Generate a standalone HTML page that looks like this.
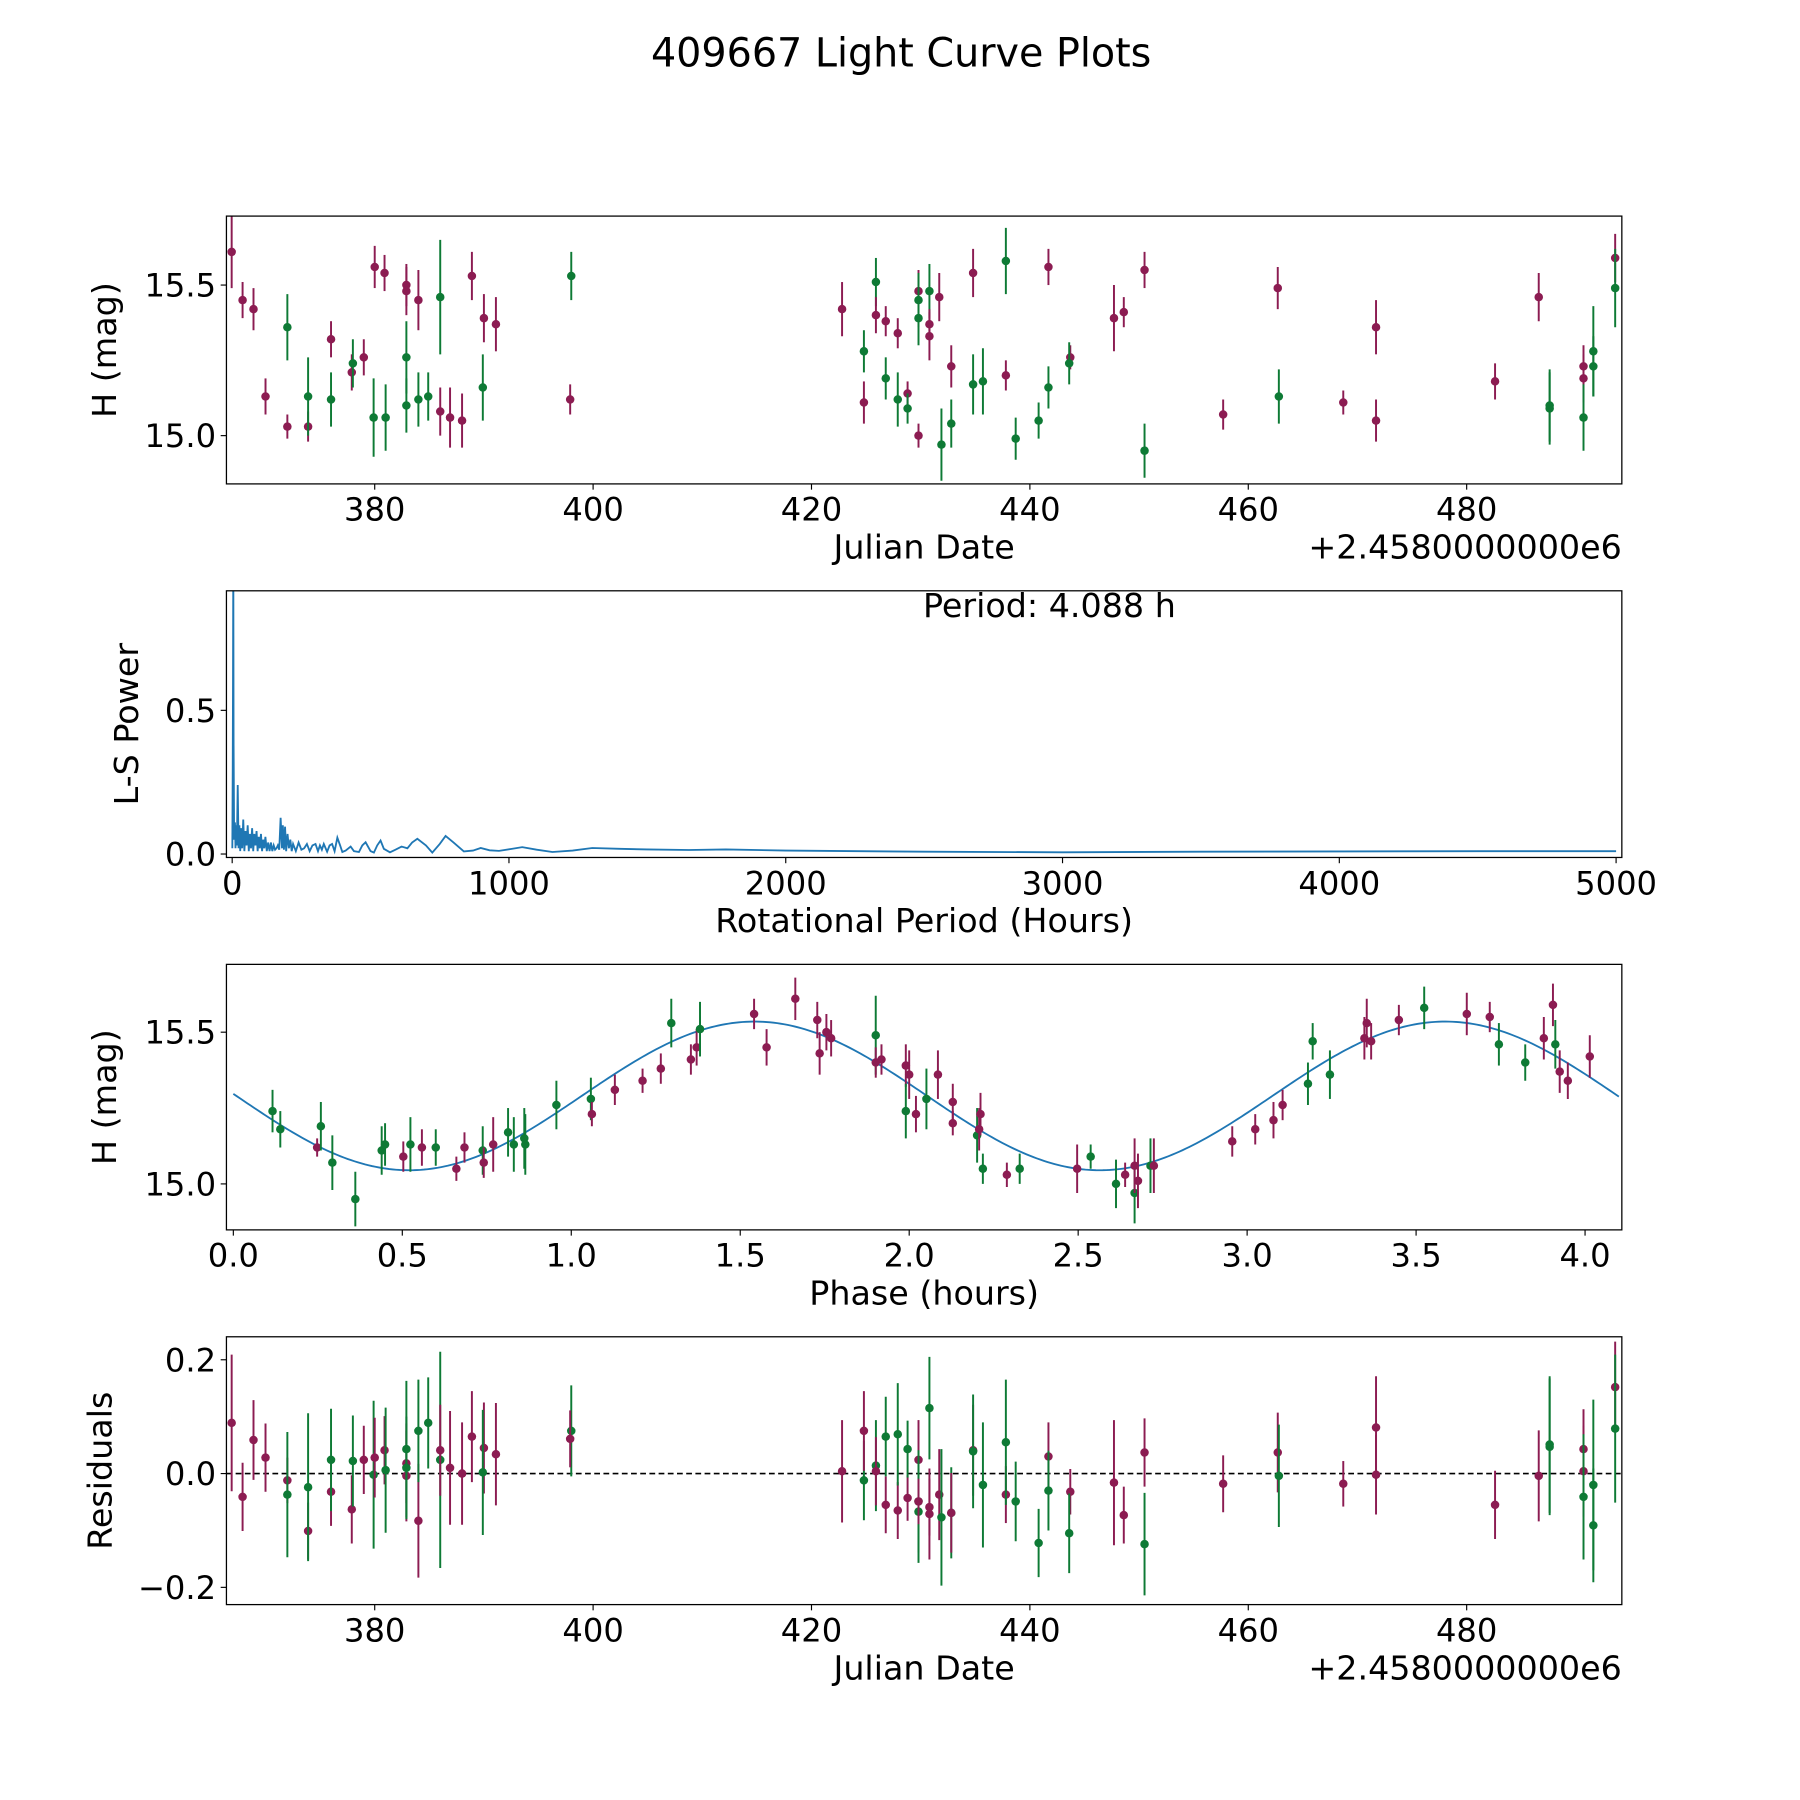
<!DOCTYPE html>
<html><head><meta charset="utf-8"><title>409667 Light Curve Plots</title>
<style>html,body{margin:0;padding:0;background:#fff}svg{display:block}text{font-family:"DejaVu Sans","Liberation Sans",sans-serif;fill:#000}</style>
</head><body>
<svg id="fig" xmlns="http://www.w3.org/2000/svg" width="1800" height="1800" viewBox="0 0 1566 1566">
<rect width="1566" height="1566" fill="#fff"/>
<text x="784" y="58" font-size="34.5" text-anchor="middle">409667 Light Curve Plots</text>
</svg>
<script>
// ---- Panel 1: light curve vs Julian Date ----
const lcJd  = [366.9,367.9,368.9,370.0,372.0,372.0,373.9,373.9,376.0,376.0,377.9,378.0,379.0,379.9,380.0,380.9,381.0,382.9,382.9,382.9,382.9,384.0,384.0,384.9,386.0,386.0,386.9,388.0,388.9,390.0,389.9,391.1,398.0,397.9,422.8,424.8,424.8,425.9,425.9,426.8,426.8,427.9,427.9,428.8,428.8,429.8,429.8,429.8,429.8,430.8,430.8,430.8,431.7,431.9,432.8,432.8,434.8,434.8,435.7,437.8,437.8,438.7,440.8,441.7,441.7,443.7,443.6,447.7,448.6,450.5,450.5,457.7,462.7,462.8,468.7,471.7,471.7,482.6,486.6,487.6,487.6,490.7,490.7,490.7,491.6,491.6,493.6,493.6];
const lcMag = [15.61,15.45,15.42,15.13,15.03,15.36,15.03,15.13,15.32,15.12,15.21,15.24,15.26,15.06,15.56,15.54,15.06,15.50,15.48,15.26,15.10,15.45,15.12,15.13,15.46,15.08,15.06,15.05,15.53,15.39,15.16,15.37,15.53,15.12,15.42,15.28,15.11,15.51,15.40,15.38,15.19,15.34,15.12,15.14,15.09,15.48,15.45,15.39,15.00,15.48,15.37,15.33,15.46,14.97,15.04,15.23,15.54,15.17,15.18,15.20,15.58,14.99,15.05,15.56,15.16,15.26,15.24,15.39,15.41,15.55,14.95,15.07,15.49,15.13,15.11,15.36,15.05,15.18,15.46,15.10,15.09,15.23,15.19,15.06,15.28,15.23,15.59,15.49];
const lcErr = [0.12,0.06,0.07,0.06,0.04,0.11,0.05,0.13,0.06,0.09,0.06,0.08,0.06,0.13,0.07,0.06,0.11,0.07,0.08,0.12,0.09,0.10,0.09,0.08,0.19,0.08,0.10,0.09,0.08,0.08,0.11,0.09,0.08,0.05,0.09,0.07,0.07,0.08,0.06,0.05,0.07,0.05,0.09,0.04,0.05,0.07,0.09,0.09,0.04,0.09,0.05,0.08,0.08,0.12,0.08,0.07,0.08,0.10,0.11,0.05,0.11,0.07,0.06,0.06,0.07,0.04,0.07,0.11,0.05,0.06,0.09,0.05,0.07,0.09,0.04,0.09,0.07,0.06,0.08,0.12,0.12,0.07,0.08,0.11,0.15,0.10,0.08,0.13];
const lcCol = ["p","p","p","p","p","g","p","g","p","g","p","g","p","g","p","p","g","p","p","g","g","p","g","g","g","p","p","p","p","p","g","p","g","p","p","g","p","g","p","p","g","p","g","p","g","p","g","g","p","g","p","p","p","g","g","p","p","g","g","p","g","g","g","p","g","p","g","p","p","p","g","p","p","g","p","p","p","p","p","g","g","p","p","g","g","g","p","g"];
// ---- Panel 4: residuals (same observations) ----
const resVal = [0.089,-0.041,0.059,0.028,-0.012,-0.037,-0.101,-0.024,-0.032,0.024,-0.063,0.022,0.024,-0.002,0.028,0.041,0.006,0.018,-0.004,0.043,0.010,-0.083,0.075,0.089,0.024,0.041,0.010,0.000,0.065,0.045,0.002,0.034,0.075,0.061,0.004,-0.012,0.075,0.014,0.004,-0.055,0.065,-0.065,0.069,-0.043,0.043,0.024,-0.049,-0.067,-0.049,0.115,-0.059,-0.071,-0.037,-0.077,-0.069,-0.069,0.041,0.039,-0.020,-0.037,0.055,-0.049,-0.122,0.030,-0.030,-0.032,-0.105,-0.016,-0.073,0.037,-0.124,-0.018,0.037,-0.004,-0.018,0.081,-0.002,-0.055,-0.004,0.051,0.047,0.043,0.004,-0.041,-0.020,-0.091,0.152,0.079];
// ---- Panel 3: phased light curve ----
const phX = [0.116,0.139,0.248,0.259,0.293,0.361,0.439,0.449,0.503,0.524,0.558,0.599,0.660,0.684,0.738,0.741,0.769,0.813,0.830,0.861,0.864,0.956,1.058,1.061,1.129,1.211,1.265,1.296,1.354,1.371,1.381,1.541,1.578,1.663,1.728,1.735,1.755,1.769,1.901,1.901,1.918,1.990,2.000,1.990,2.020,2.051,2.085,2.129,2.129,2.201,2.207,2.211,2.218,2.289,2.327,2.497,2.537,2.612,2.639,2.667,2.667,2.677,2.714,2.724,2.956,3.024,3.078,3.105,3.180,3.194,3.245,3.347,3.354,3.367,3.449,3.524,3.650,3.718,3.745,3.823,3.878,3.905,3.912,3.925,3.949,4.014];
const phMag = [15.24,15.18,15.12,15.19,15.07,14.95,15.11,15.13,15.09,15.13,15.12,15.12,15.05,15.12,15.11,15.07,15.13,15.17,15.13,15.15,15.13,15.26,15.28,15.23,15.31,15.34,15.38,15.53,15.41,15.45,15.51,15.56,15.45,15.61,15.54,15.43,15.50,15.48,15.49,15.40,15.41,15.39,15.36,15.24,15.23,15.28,15.36,15.27,15.20,15.16,15.18,15.23,15.05,15.03,15.05,15.05,15.09,15.00,15.03,14.97,15.06,15.01,15.06,15.06,15.14,15.18,15.21,15.26,15.33,15.47,15.36,15.48,15.53,15.47,15.54,15.58,15.56,15.55,15.46,15.40,15.48,15.59,15.46,15.37,15.34,15.42];
const phErr = [0.07,0.06,0.03,0.08,0.09,0.09,0.08,0.07,0.05,0.09,0.06,0.06,0.04,0.05,0.08,0.05,0.09,0.08,0.09,0.10,0.10,0.08,0.07,0.04,0.05,0.04,0.05,0.08,0.05,0.06,0.09,0.05,0.06,0.07,0.06,0.07,0.06,0.06,0.13,0.05,0.05,0.07,0.08,0.09,0.06,0.10,0.08,0.06,0.04,0.09,0.07,0.07,0.05,0.04,0.05,0.08,0.04,0.08,0.04,0.10,0.09,0.09,0.09,0.09,0.05,0.05,0.06,0.05,0.07,0.06,0.08,0.07,0.08,0.06,0.05,0.07,0.07,0.05,0.07,0.06,0.07,0.07,0.08,0.07,0.06,0.07];
const phCol = ["g","g","p","g","g","g","g","g","p","g","p","g","p","p","g","p","p","g","g","g","g","g","g","p","p","p","p","g","p","p","g","p","p","p","p","p","p","p","g","p","p","p","p","g","p","g","p","p","p","g","p","p","g","p","g","p","g","g","p","g","p","p","g","p","p","p","p","p","g","g","g","p","p","p","p","g","p","p","g","g","p","p","g","p","p","p"];
// fitted model parameters: [mean, amplitude, minimum-phase, half-period]
const fitParams = [15.29, 0.245, 0.52, 2.044];
// ---- Panel 2: Lomb-Scargle periodogram ----
const lsPeriod = [0.5,2,3,4.088,5,7,10,12,14,17,20,23,26,29,32,36,40,44,48,52,56,60,64,68,72,76,80,84,88,92,96,100,104,108,112,116,120,125,130,135,140,145,150,155,160,165,170,175,180,183,187,191,195,200,205,210,215,220,230,240,250,260,270,280,290,301,310,317,324,331,343,352,361,370,380,390,398,410,428,440,458,470,482,500,512,524,536,548,570,590,612,633,650,669,700,723,750,771,800,837,870,898,930,964,1010,1048,1100,1157,1230,1301,1400,1500,1650,1783,2000,2500,3000,3500,4000,4500,5000];
const lsPower = [0.02,0.3,0.6,1.05,0.4,0.05,0.11,0.02,0.1,0.03,0.24,0.02,0.1,0.01,0.09,0.02,0.12,0.01,0.08,0.03,0.1,0.01,0.07,0.02,0.09,0.01,0.07,0.03,0.08,0.01,0.06,0.02,0.07,0.01,0.05,0.02,0.06,0.01,0.04,0.01,0.04,0.01,0.03,0.015,0.02,0.03,0.015,0.126,0.02,0.1,0.015,0.095,0.01,0.07,0.02,0.05,0.01,0.035,0.01,0.04,0.015,0.02,0.035,0.01,0.03,0.035,0.01,0.03,0.015,0.035,0.008,0.03,0.035,0.01,0.057,0.03,0.007,0.012,0.026,0.01,0.007,0.03,0.041,0.01,0.005,0.03,0.047,0.018,0.006,0.015,0.026,0.02,0.04,0.053,0.03,0.005,0.035,0.063,0.04,0.009,0.012,0.021,0.013,0.011,0.018,0.024,0.015,0.007,0.012,0.021,0.018,0.016,0.014,0.016,0.012,0.008,0.006,0.008,0.009,0.010,0.010];

const NS = "http://www.w3.org/2000/svg";
const svg = document.getElementById("fig");
const COL = {p:"#8c1c52", g:"#0e7a35"};
const TICK_FS = 28, LAB_FS = 29;
function el(tag, attrs, parent){ const e=document.createElementNS(NS,tag); for(const k in attrs) e.setAttribute(k,attrs[k]); (parent||svg).appendChild(e); return e; }
function txt(s, attrs, parent){ const t=el("text",attrs,parent); t.textContent=s; return t; }
function lin(d0,d1,r0,r1){ return v => r0+(v-d0)*(r1-r0)/(d1-d0); }

function frame(name, L,T,R,B, xs, xticks, xfmt, ys, yticks, yfmt, xlabel, ylabel, ylabX){
  const g=el("g",{});
  
  
  const ax=el("g",{},g);
  
  
  xticks.forEach(v=>{ const x=xs(v);
    el("line",{x1:x,y1:B,x2:x,y2:B+5,stroke:"#000","stroke-width":1},ax);
    const t=txt(xfmt(v),{x:x,y:B+32,"font-size":TICK_FS,"text-anchor":"middle"},ax);
    
    
  });
  const ay=el("g",{},g);
  
  
  yticks.forEach(v=>{ const y=ys(v);
    el("line",{x1:L-5,y1:y,x2:L,y2:y,stroke:"#000","stroke-width":1},ay);
    const t=txt(yfmt(v),{x:L-9,y:y+10,"font-size":TICK_FS,"text-anchor":"end"},ay);
    
    
  });
  const xl=txt(xlabel,{x:(L+R)/2,y:B+65,"font-size":LAB_FS,"text-anchor":"middle"},g);
  
  
  const yc=(T+B)/2;
  const yl=txt(ylabel,{x:ylabX,y:yc,"font-size":LAB_FS,"text-anchor":"middle",transform:`rotate(-90 ${ylabX} ${yc})`},g);
  
  
  const clip=el("clipPath",{id:name+"-clip"},g); el("rect",{x:L,y:T,width:R-L,height:B-T},clip);
  const plot=el("g",{"clip-path":`url(#${name}-clip)`},g);
  
  
  return {g,plot,close:()=>{ const f=el("rect",{x:L,y:T,width:R-L,height:B-T,fill:"none",stroke:"#000","stroke-width":1.1},g);
    
     }};
}
function errPoints(plot, xsArr, ysArr, errArr, colArr, xs, ys, nm){
  for(let i=0;i<xsArr.length;i++){
    const x=xs(xsArr[i]), y=ys(ysArr[i]), c=COL[colArr[i]];
    const pt=el("g",{},plot);
    
    
    el("line",{x1:x,y1:ys(ysArr[i]-errArr[i]),x2:x,y2:ys(ysArr[i]+errArr[i]),stroke:c,"stroke-width":1.7},pt);
    el("circle",{cx:x,cy:y,r:3.7,fill:c},pt);
  }
}
const f1=v=>v.toFixed(1), f0=v=>String(v), fm=v=>(v<0?"\u2212":"")+Math.abs(v).toFixed(1);
const jdTicks=[380,400,420,440,460,480];

// Panel 1
{ const L=197,R=1411,T=188,B=421;
  const xs=lin(380,400,326,516), ys=lin(15.0,15.5,379,248);
  const p=frame("light-curve-panel",L,T,R,B,xs,jdTicks,f0,ys,[15.0,15.5],f1,"Julian Date","H (mag)",101);
  errPoints(p.plot,lcJd,lcMag,lcErr,lcCol,xs,ys,"magnitude-point");
  p.close();
  const o=txt("+2.4580000000e6",{x:R,y:B+65,"font-size":LAB_FS,"text-anchor":"end"},p.g);
  
  
}
// Panel 2
{ const L=197,R=1411,T=514,B=746;
  const xs=lin(0,5000,202,1406), ys=lin(0,0.5,743,618);
  const p=frame("periodogram-panel",L,T,R,B,xs,[0,1000,2000,3000,4000,5000],f0,ys,[0,0.5],f1,"Rotational Period (Hours)","L-S Power",120);
  const d=lsPeriod.map((v,i)=>(i?"L":"M")+xs(v).toFixed(2)+","+ys(lsPower[i]).toFixed(2)).join(" ");
  const path=el("path",{d:d,fill:"none",stroke:"#1f77b4","stroke-width":1.6},p.plot);
  
  
  p.close();
  const t=txt("Period: 4.088 h",{x:913,y:537,"font-size":LAB_FS,"text-anchor":"middle"},p.g);
  
  
}
// Panel 3
{ const L=197,R=1411,T=839,B=1070;
  const xs=lin(0,4,203,1379), ys=lin(15.0,15.5,1030,898);
  const p=frame("phase-panel",L,T,R,B,xs,[0,0.5,1,1.5,2,2.5,3,3.5,4],f1,ys,[15.0,15.5],f1,"Phase (hours)","H (mag)",101);
  const [m,a,t0,P]=fitParams; let d="";
  for(let i=0;i<=400;i++){ const t=4.1*i/400; const v=m-a*Math.cos(2*Math.PI*(t-t0)/P); d+=(i?"L":"M")+xs(t).toFixed(2)+","+ys(v).toFixed(2); }
  const fit=el("path",{d:d,fill:"none",stroke:"#1f77b4","stroke-width":1.6},p.plot);
  
  
  errPoints(p.plot,phX,phMag,phErr,phCol,xs,ys,"phased-point");
  p.close();
}
// Panel 4
{ const L=197,R=1411,T=1163,B=1396;
  const xs=lin(380,400,326,516), ys=lin(0,0.2,1282,1183);
  const p=frame("residuals-panel",L,T,R,B,xs,jdTicks,f0,ys,[-0.2,0,0.2],fm,"Julian Date","Residuals",97);
  const z=el("line",{x1:L,y1:ys(0),x2:R,y2:ys(0),stroke:"#000","stroke-width":1.5,"stroke-dasharray":"5,3"},p.plot);
  
  
  errPoints(p.plot,lcJd,resVal,lcErr,lcCol,xs,ys,"residual-point");
  p.close();
  const o=txt("+2.4580000000e6",{x:R,y:B+65,"font-size":LAB_FS,"text-anchor":"end"},p.g);
  
  
}
</script>
</body></html>
